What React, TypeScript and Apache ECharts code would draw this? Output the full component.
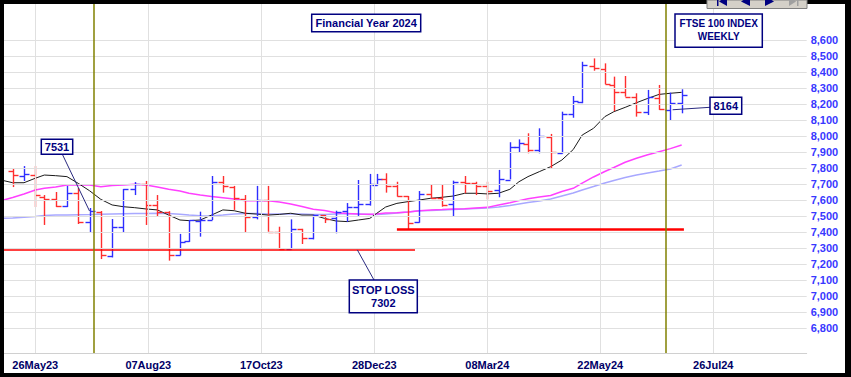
import React, { useEffect, useRef } from 'react';
import * as echarts from 'echarts';

// ---- axis ticks ----
const X_TICK_DAYS = [0, 50, 100, 150, 200, 250, 300];
const X_TICK_LABELS = ['26May23', '07Aug23', '17Oct23', '28Dec23', '08Mar24', '22May24', '26Jul24'];
const Y_TICKS = [6800, 6900, 7000, 7100, 7200, 7300, 7400, 7500, 7600, 7700, 7800, 7900, 8000, 8100, 8200, 8300, 8400, 8500, 8600];

// ---- calendar: trading-day index of week 0 (05May23) and trading days in each later week ----
const FIRST_WEEK_DAY = -14;
const WEEK_LEN = [
  4, 5, 5, 4,
  5, 5, 5, 5, 5, 5, 5, 5, 5, 5, 5, 5,
  4,
  5, 5, 5, 5, 5, 5, 5, 5, 5, 5, 5, 5, 5, 5, 5, 5,
  3, 4,
  5, 5, 5, 5, 5, 5, 5, 5, 5, 5, 5,
  4, 4,
  5, 5, 5, 5,
  4, 5, 5, 4,
  5, 5, 5, 5, 5, 5,
];

// ---- weekly OHLC (weeks 12May23 .. 12Jul24) ----
const OPEN = [7781, 7750, 7756, 7619, 7606, 7562, 7644, 7462, 7525, 7247, 7431, 7669, 7700, 7569, 7525, 7256, 7341, 7471, 7478, 7711, 7684, 7608, 7495, 7600, 7402, 7292, 7417, 7361, 7504, 7488, 7529, 7554, 7576, 7695, 7733, 7690, 7625, 7462, 7635, 7615, 7573, 7711, 7704, 7688, 7660, 7727, 7930, 7953, 7911, 7996, 7896, 8140, 8213, 8437, 8420, 8318, 8275, 8245, 8147, 8238, 8164, 8204];
const HIGH = [7794, 7812, 7812, 7631, 7650, 7688, 7675, 7550, 7531, 7481, 7669, 7712, 7719, 7631, 7530, 7388, 7475, 7527, 7750, 7750, 7688, 7631, 7688, 7688, 7433, 7479, 7420, 7506, 7506, 7533, 7581, 7725, 7763, 7763, 7767, 7714, 7625, 7656, 7694, 7694, 7721, 7750, 7714, 7714, 7788, 7961, 7979, 8017, 8048, 8013, 8152, 8250, 8464, 8485, 8454, 8371, 8375, 8267, 8288, 8319, 8271, 8292];
const LOW = [7681, 7719, 7556, 7444, 7556, 7556, 7450, 7400, 7231, 7241, 7394, 7631, 7444, 7494, 7221, 7253, 7338, 7371, 7475, 7646, 7538, 7396, 7479, 7402, 7292, 7292, 7325, 7354, 7456, 7392, 7464, 7496, 7565, 7690, 7646, 7621, 7413, 7458, 7611, 7558, 7496, 7642, 7631, 7604, 7617, 7729, 7896, 7892, 7892, 7798, 7890, 8114, 8205, 8408, 8323, 8155, 8246, 8121, 8131, 8163, 8100, 8142];
const CLOSE = [7756, 7762, 7631, 7606, 7562, 7644, 7462, 7531, 7256, 7433, 7669, 7700, 7569, 7525, 7256, 7339, 7472, 7478, 7714, 7688, 7611, 7492, 7600, 7402, 7292, 7417, 7361, 7504, 7481, 7527, 7554, 7575, 7700, 7733, 7690, 7625, 7458, 7636, 7611, 7569, 7711, 7704, 7688, 7658, 7731, 7929, 7954, 7913, 8000, 7898, 8140, 8219, 8444, 8423, 8323, 8277, 8246, 8148, 8246, 8167, 8204, 8256];

// ---- moving averages (weeks 05May23 .. 12Jul24) ----
const MA_SHORT = [7721, 7708, 7708, 7736, 7756, 7752, 7746, 7704, 7658, 7604, 7569, 7558, 7552, 7544, 7538, 7506, 7475, 7471, 7475, 7506, 7538, 7533, 7517, 7512, 7506, 7510, 7517, 7506, 7506, 7485, 7469, 7465, 7475, 7485, 7516, 7556, 7579, 7590, 7600, 7611, 7617, 7625, 7642, 7642, 7638, 7642, 7667, 7714, 7746, 7777, 7808, 7850, 7915, 8006, 8048, 8121, 8152, 8179, 8208, 8235, 8260, 8267, 8273];
const MA_MID = [7600, 7616, 7638, 7662, 7673, 7681, 7694, 7694, 7694, 7683, 7690, 7694, 7698, 7694, 7681, 7667, 7656, 7642, 7631, 7622, 7614, 7606, 7596, 7596, 7596, 7588, 7575, 7559, 7542, 7534, 7521, 7516, 7513, 7511, 7513, 7519, 7521, 7525, 7533, 7538, 7540, 7544, 7546, 7550, 7554, 7569, 7583, 7596, 7608, 7619, 7628, 7653, 7673, 7706, 7744, 7778, 7803, 7836, 7861, 7883, 7902, 7921, 7944];
const MA_LONG = [7486, 7488, 7492, 7497, 7503, 7506, 7506, 7508, 7509, 7511, 7513, 7514, 7515, 7516, 7517, 7515, 7511, 7506, 7501, 7500, 7506, 7513, 7516, 7516, 7513, 7513, 7513, 7513, 7510, 7510, 7513, 7515, 7513, 7510, 7509, 7513, 7519, 7525, 7533, 7534, 7538, 7541, 7544, 7547, 7550, 7556, 7566, 7575, 7584, 7594, 7606, 7625, 7644, 7663, 7684, 7706, 7722, 7741, 7756, 7769, 7781, 7794, 7819];

// ---- annotations ----
const FY_END_DAYS = [26, 279];
const STOP_LOSS_LEVEL = 7288;
const STOP_LOSS_TEXT = '7302';
const STOP_LOSS_DAYS = [-13.85, 168];
const SUPPORT_LEVEL = 7417;
const SUPPORT_DAYS = [160, 287];
const FY_START_CLOSE = { day: 24, value: 7531 };
const FY_END_CLOSE = { day: 282, value: 8164 };

const X_MIN = -13.85;
const X_MAX = 341.33;
const Y_MIN = 6643.75;
const Y_MAX = 8825;

const FONT = "'Liberation Sans', Arial, Helvetica, sans-serif";
const NAVY = '#000080';
const UP = '#2e2eff';
const DOWN = '#ff2e2e';

export default function App() {
  const ref = useRef<HTMLDivElement>(null);

  useEffect(() => {
    const el = ref.current!;
    const chart = echarts.init(el, undefined, { renderer: 'svg' });

    const days: number[] = [FIRST_WEEK_DAY];
    WEEK_LEN.forEach((n) => days.push(days[days.length - 1] + n));
    const ohlc = OPEN.map((o, i) => [days[i + 1], o, HIGH[i], LOW[i], CLOSE[i]]);
    const maData = (arr: number[]) => arr.map((v, i) => [days[i], v]);

    const option: any = {
      animation: false,
      backgroundColor: '#ffffff',
      grid: { left: 4, right: 44.3, top: 4, bottom: 24, containLabel: false },
      xAxis: {
        type: 'value',
        min: X_MIN,
        max: X_MAX,
        axisLine: { show: true, lineStyle: { color: '#d0d0d0', width: 1 } },
        axisTick: { show: false },
        splitLine: { show: false },
        axisLabel: {
          customValues: X_TICK_DAYS,
          formatter: (v: number) => {
            const i = X_TICK_DAYS.indexOf(Math.round(v));
            return i >= 0 ? X_TICK_LABELS[i] : '';
          },
          color: '#000066',
          fontWeight: 'bold',
          fontSize: 11,
          fontFamily: FONT,
          margin: 6,
        },
      },
      yAxis: {
        type: 'value',
        position: 'right',
        min: Y_MIN,
        max: Y_MAX,
        axisLine: { show: true, lineStyle: { color: '#d0d0d0', width: 1 } },
        axisTick: { show: false },
        splitLine: { show: false },
        axisLabel: {
          customValues: Y_TICKS,
          formatter: (v: number) => Math.round(v).toLocaleString('en-US'),
          color: '#3838ff',
          fontWeight: 'bold',
          fontSize: 11,
          fontFamily: FONT,
          margin: 4,
        },
      },
      series: [
        {
          name: 'grid',
          type: 'line',
          data: [],
          z: 0,
          silent: true,
          markLine: {
            silent: true,
            symbol: ['none', 'none'],
            label: { show: false },
            lineStyle: { color: '#e0e0e0', width: 1, type: 'solid' },
            data: [
              ...Y_TICKS.map((v) => ({ yAxis: v })),
              ...X_TICK_DAYS.map((d) => ({ xAxis: d })),
            ],
          },
        },
        {
          name: 'MA long',
          type: 'line',
          data: maData(MA_LONG),
          showSymbol: false,
          z: 1,
          lineStyle: { color: '#a8a8ff', width: 1.5 },
        },
        {
          name: 'MA mid',
          type: 'line',
          data: maData(MA_MID),
          showSymbol: false,
          z: 1,
          lineStyle: { color: '#ff40ff', width: 1.5 },
        },
        {
          name: 'MA short',
          type: 'line',
          data: maData(MA_SHORT),
          showSymbol: false,
          z: 2,
          lineStyle: { color: '#1a1a1a', width: 1 },
        },
        {
          name: 'OHLC',
          type: 'custom',
          clip: true,
          z: 3,
          data: ohlc,
          encode: { x: 0, y: [1, 2, 3, 4] },
          renderItem: (params: any, api: any) => {
            const d = api.value(0);
            const o = api.coord([d, api.value(1)]);
            const h = api.coord([d, api.value(2)]);
            const l = api.coord([d, api.value(3)]);
            const c = api.coord([d, api.value(4)]);
            const color = api.value(4) >= api.value(1) ? UP : DOWN;
            const tick = 5;
            const x = Math.round(h[0]) + 0.5;
            const oy = Math.round(o[1]) + 0.5;
            const cy = Math.round(c[1]) + 0.5;
            return {
              type: 'group',
              children: [
                { type: 'line', shape: { x1: x, y1: h[1], x2: x, y2: l[1] }, style: { stroke: color, lineWidth: 1.4 } },
                { type: 'line', shape: { x1: x - tick, y1: oy, x2: x, y2: oy }, style: { stroke: color, lineWidth: 1.4 } },
                { type: 'line', shape: { x1: x, y1: cy, x2: x + tick, y2: cy }, style: { stroke: color, lineWidth: 1.4 } },
              ],
            };
          },
        },
        {
          name: 'levels',
          type: 'line',
          data: [],
          z: 4,
          silent: true,
          markLine: {
            silent: true,
            symbol: ['none', 'none'],
            label: { show: false },
            data: [
              [
                { coord: [STOP_LOSS_DAYS[0], STOP_LOSS_LEVEL], lineStyle: { color: '#ff0000', width: 1.5, type: 'solid' } },
                { coord: [STOP_LOSS_DAYS[1], STOP_LOSS_LEVEL] },
              ],
              [
                { coord: [SUPPORT_DAYS[0], SUPPORT_LEVEL], lineStyle: { color: '#ff0000', width: 2.5, type: 'solid' } },
                { coord: [SUPPORT_DAYS[1], SUPPORT_LEVEL] },
              ],
              ...FY_END_DAYS.map((d) => ({ xAxis: d, lineStyle: { color: '#808000', width: 1.5, type: 'solid' } })),
            ],
          },
        },
      ],
    };

    chart.setOption(option);

    const px = (d: number, v: number) => chart.convertToPixel({ gridIndex: 0 } as any, [d, v]) as number[];
    const a7531 = px(FY_START_CLOSE.day, FY_START_CLOSE.value);
    const a8164 = px(FY_END_CLOSE.day, FY_END_CLOSE.value);
    const aStop = px(142.5, STOP_LOSS_LEVEL);

    const box = (x: number, y: number, w: number, h: number) => ({
      type: 'rect',
      shape: { x, y, width: w, height: h },
      style: { fill: '#ffffff', stroke: NAVY, lineWidth: 1.5 },
      z: 20,
    });
    const txt = (x: number, y: number, text: string, size = 11) => ({
      type: 'text',
      x,
      y,
      style: { text, fill: NAVY, font: `bold ${size}px ${FONT}`, textAlign: 'center', textVerticalAlign: 'middle' },
      z: 21,
    });
    const leader = (x1: number, y1: number, x2: number, y2: number) => ({
      type: 'line',
      shape: { x1, y1, x2, y2 },
      style: { stroke: '#2a2a80', lineWidth: 1 },
      z: 19,
    });

    chart.setOption({
      graphic: [
        // leader lines
        leader(62.7, 155, a7531[0], a7531[1]),
        leader(710, 107.3, a8164[0], a8164[1]),
        leader(374, 280, aStop[0], aStop[1]),
        // boxes
        box(311.7, 14.3, 109, 17.4),
        txt(366.2, 23.2, 'Financial Year 2024'),
        box(675, 14, 87.3, 33.3),
        txt(718.7, 23.5, 'FTSE 100 INDEX', 10),
        txt(718.7, 36.8, 'WEEKLY', 10),
        box(710, 97.3, 31.7, 17),
        txt(725.8, 106, '8164'),
        box(41.3, 139.3, 31.4, 15),
        txt(57, 147, '7531'),
        box(349.3, 280, 68, 32.7),
        txt(383.3, 289.5, 'STOP LOSS'),
        txt(383.3, 302.8, STOP_LOSS_TEXT),
        // frame
        { type: 'rect', shape: { x: 0, y: 0, width: 4, height: 377 }, style: { fill: '#000' }, z: 30 },
        { type: 'rect', shape: { x: 0, y: 0, width: 851, height: 4 }, style: { fill: '#000' }, z: 30 },
        { type: 'rect', shape: { x: 845, y: 0, width: 6, height: 377 }, style: { fill: '#000' }, z: 30 },
        { type: 'rect', shape: { x: 0, y: 373, width: 851, height: 4 }, style: { fill: '#000' }, z: 30 },
        // navigation strip
        { type: 'rect', shape: { x: 707, y: 0, width: 100, height: 8.5 }, style: { fill: '#d4d0c8', stroke: '#808080', lineWidth: 1 }, z: 31 },
        { type: 'rect', shape: { x: 717, y: 0, width: 1.5, height: 6 }, style: { fill: NAVY }, z: 32 },
        { type: 'polygon', shape: { points: [[719, 1.5], [727, -4], [727, 6]] }, style: { fill: NAVY }, z: 32 },
        { type: 'polygon', shape: { points: [[741, 1.5], [750, -4], [750, 6]] }, style: { fill: NAVY }, z: 32 },
        { type: 'polygon', shape: { points: [[774, 1.5], [765, -4], [765, 6]] }, style: { fill: NAVY }, z: 32 },
        { type: 'polygon', shape: { points: [[796, 1.5], [789, -4], [789, 6]] }, style: { fill: '#a0a0a0' }, z: 32 },
        { type: 'rect', shape: { x: 797, y: 0, width: 1.5, height: 6 }, style: { fill: '#a0a0a0' }, z: 32 },
      ],
    });

    return () => chart.dispose();
  }, []);

  return <div ref={ref} style={{ position: 'absolute', left: 0, top: 0, width: 851, height: 377 }} />;
}
